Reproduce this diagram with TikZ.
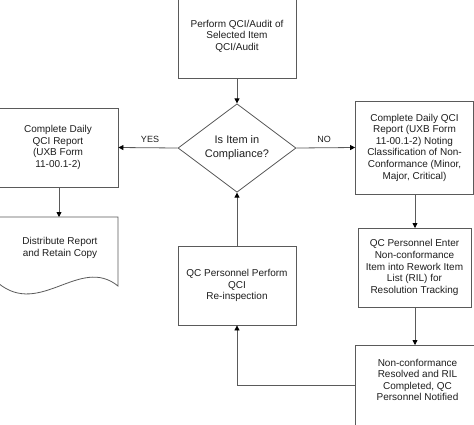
\documentclass[tikz,border=0pt]{standalone}
\usepackage{fontspec}
\setmainfont{Liberation Sans}
\usetikzlibrary{arrows.meta,shapes.geometric}
\definecolor{linegray}{HTML}{5A5A5A}
\definecolor{txtcol}{HTML}{1E1E1E}
\tikzset{
  boxnode/.style={draw=linegray, line width=0.8pt, rectangle, align=center, inner sep=0pt,
    text=txtcol, font=\fontsize{10}{11.6}\selectfont},
  txtnode/.style={align=center, inner sep=0pt, text=txtcol, font=\fontsize{10}{11.6}\selectfont},
  decnode/.style={draw=linegray, line width=0.8pt, diamond, align=center, inner sep=0pt,
    text=txtcol, font=\fontsize{11}{14}\selectfont},
  conn/.style={draw=linegray, line width=0.8pt, -{Triangle[length=5pt,width=5pt,color=black]}},
  plainline/.style={draw=linegray, line width=0.8pt},
  lbl/.style={text=txtcol, font=\fontsize{9}{10}\selectfont, inner sep=0pt}
}
\begin{document}
\begin{tikzpicture}[x=1pt,y=-1pt]
\useasboundingbox (0,0) rectangle (474,424);
\clip (0,0) rectangle (474,424);
\fill[white] (0,0) rectangle (474,424);
% nodes
\node[boxnode, minimum width=118pt, minimum height=84pt] (top) at (237,36)
  {Perform QCI/Audit of\\Selected Item\\QCI/Audit};
\node[decnode, minimum width=118pt, minimum height=78pt] (dec) at (237,148)
  {Is Item in\\Compliance?};
\node[boxnode, minimum width=120pt, minimum height=79pt] (lbox) at (58,147.5)
  {Complete Daily\\QCI Report\\(UXB Form\\11-00.1-2)};
\node[boxnode, minimum width=118pt, minimum height=93pt] (rbox1) at (414.5,147.5)
  {Complete Daily QCI\\Report (UXB Form\\11-00.1-2) Noting\\Classification of Non-\\Conformance (Minor,\\Major, Critical)};
\node[boxnode, minimum width=113pt, minimum height=79pt] (rbox2) at (414.5,267.5)
  {QC Personnel Enter\\Non-conformance\\Item into Rework Item\\List (RIL) for\\Resolution Tracking};
\node[boxnode, minimum width=118pt, minimum height=79pt] (cbox) at (237,285.5)
  {QC Personnel Perform\\QCI\\Re-inspection};
\node[boxnode, minimum width=125pt, minimum height=80pt] (rbox3) at (417.5,385) {};
\node[txtnode] (rbox3txt) at (417.5,380)
  {Non-conformance\\Resolved and RIL\\Completed, QC\\Personnel Notified};
% document shape
\draw[plainline] (-2,217) -- (118,217) -- (118,286)
  .. controls (80,255) and (40,318) .. (-2,283) -- cycle;
\coordinate (doctop) at (59,217);
\node[txtnode] (doctxt) at (60,248) {Distribute Report\\and Retain Copy};
% connectors
\draw[conn] (top.south) -- (dec.north);
\draw[conn] (dec.west) -- (lbox.east);
\draw[conn] (dec.east) -- (rbox1.west);
\draw[conn] (lbox.south -| doctop) -- (doctop);
\draw[conn] (415,194) -- (415,228);
\draw[conn] (415,307) -- (415,345);
\draw[conn] (rbox3.west) -| (cbox.south);
\draw[conn] (cbox.north) -- (dec.south);
% labels
\node[lbl] (yes) at (150,139) {YES};
\node[lbl] (no) at (324,139) {NO};
\end{tikzpicture}
\end{document}
